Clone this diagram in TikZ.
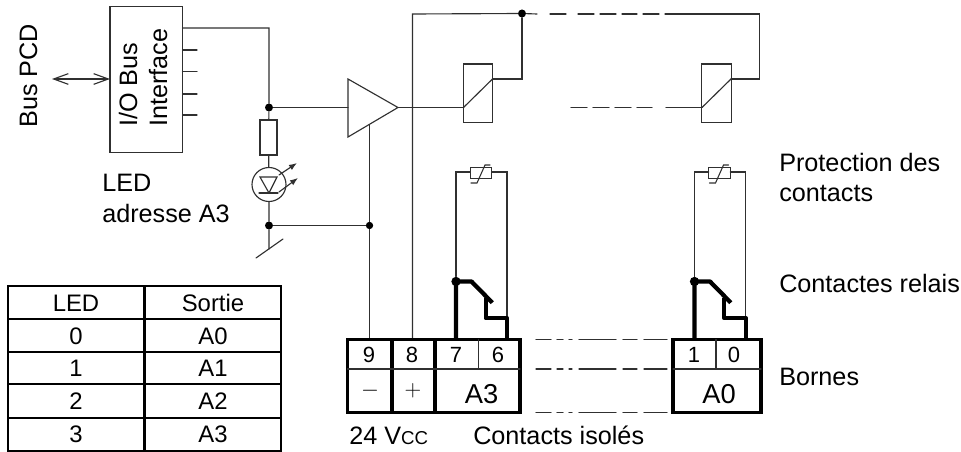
\documentclass[tikz,border=0pt]{standalone}
\usepackage{fontspec}
\setmainfont{Liberation Sans}
\usetikzlibrary{arrows.meta}
\definecolor{ink}{HTML}{303030}
\tikzset{
  wire/.style={draw=ink, line width=0.85pt, line cap=round, line join=miter},
  thk/.style={draw=black, line width=3.2pt, line join=round},
  frm/.style={draw=black, line width=2.7pt},
  tab/.style={draw=black, line width=1.6pt},
  box/.style={draw=ink, line width=0.85pt, inner sep=0pt, outer sep=0pt},
  dot/.style={circle, fill=black, inner sep=0pt, minimum size=6pt},
  lab/.style={text=black, inner sep=0pt, font=\fontsize{18.9pt}{22pt}\selectfont},
  labb/.style={text=black, inner sep=0pt, font=\fontsize{20.5pt}{24pt}\selectfont},
  labs/.style={text=black, inner sep=0pt, font=\fontsize{16.5pt}{19pt}\selectfont},
  labt/.style={text=black, inner sep=0pt, font=\fontsize{17.9pt}{21pt}\selectfont},
  sgn/.style={text=black, inner sep=0pt, font=\fontsize{17.28pt}{20pt}\selectfont},
  bar/.style={{Straight Barb[length=11pt,width=8pt]}-{Straight Barb[length=11pt,width=8pt]}},
  ray/.style={-{Latex[length=6pt,width=4.5pt]}},
}
\begin{document}
\begin{tikzpicture}[x=0.75pt,y=-0.75pt]
  \useasboundingbox (0,0) rectangle (961,452);
  % bus side
  \node[box,minimum width=54.4pt,minimum height=109pt] (io) at (146.25,79.5) {};
  \node[lab,rotate=90,anchor=base west] (bus) at (37,128) {Bus PCD};
  \node[lab,rotate=90,anchor=base west] (iob) at (137,127) {I/O Bus};
  \node[lab,rotate=90,anchor=base west] (ifc) at (167,127) {Interface};
  \coordinate (busl) at (52,79);
  \draw[wire,bar] (busl) -- (io.west |- busl);
  \foreach \y in {50,71.5,94,115} \draw[wire] (182.5,\y) -- (197,\y);
  % led branch
  \coordinate (out3) at (182.5,28);
  \node[dot] (j1) at (269,107.5) {};
  \node[box,minimum width=12.75pt,minimum height=26.25pt] (res) at (268.5,137.5) {};
  \node[box,circle,minimum size=25.5pt] (led) at (269,184.5) {};
  \node[dot] (j2) at (269,225.5) {};
  \coordinate (gnd) at (269,249);
  \draw[wire] (out3) -| (j1) -- (res) -- (led) -- (j2) -- (gnd);
  \draw[wire] (256,258) -- (283,239);
  \draw[wire] (260,177) -- (277,177) -- (269,193) -- cycle;
  \draw[wire] (259,193) -- (278,193);
  \draw[wire,ray] (279,175) -- (297,163);
  \draw[wire,ray] (279,192) -- (298,178);
  \node[lab,anchor=base west] (ledt) at (102,192) {LED};
  \node[lab,anchor=base west] (adr) at (102,223) {adresse A3};
  % amplifier and supply
  \coordinate (ampa) at (348,79);
  \coordinate (ampb) at (398,107.5);
  \coordinate (ampc) at (348,137);
  \coordinate (ampg) at (369.5,124.5);
  \draw[wire] (ampa) -- (ampb) -- (ampc) -- cycle;
  \draw[wire] (j1) -- (j1 -| ampa);
  \node[dot,minimum size=5.5pt] (j3) at (369.5,225.5) {};
  \coordinate (t9) at (369.5,339);
  \coordinate (t8) at (412.5,339);
  \draw[wire] (j2) -- (j3);
  \draw[wire] (ampg) -- (j3) -- (t9);
  \node[dot] (j4) at (522,13.5) {};
  \draw[wire] (t8) -- (412.5,14) -- (j4);
  \draw[wire] (j4) -- (537,14);
  \foreach \a/\b in {550/566,578/594,600/616,622/637,643/659} \draw[wire] (\a,14) -- (\b,14);
  \foreach \a/\b in {571/587,593/609,615/631,637/652} \draw[wire] (\a,107.5) -- (\b,107.5);
  % two relays with their contacts
  \foreach \s/\n in {0/a,238.5/b} {
    \begin{scope}[xshift=\s*0.75pt]
      \node[box,minimum width=21.9pt,minimum height=43.9pt] (rel\n) at (478,93.25) {};
      \coordinate (ci\n) at (463.5,107.5);
      \coordinate (co\n) at (492.5,79);
      \draw[wire] (ci\n) -- (co\n);
      \node[box,minimum width=16.2pt,minimum height=8.6pt] (var\n) at (481,173) {};
      \coordinate (vl\n) at (456,172);
      \coordinate (vr\n) at (507,172);
      \node[dot,minimum size=7pt] (c\n) at (456,281.5) {};
      \draw[wire] (c\n) -- (vl\n) -- (vl\n -| var\n.west);
      \draw[wire] (507,318) -- (vr\n) -- (vr\n -| var\n.east);
      \draw[wire,line width=0.8pt] (471,183) -- (477,183) -- (485,165) -- (490,165);
      \draw[thk] (456,338) -- (c\n.center) -- (471.5,281.5) -- (492.3,302.7);
      \draw[thk] (485.7,298) -- (485.7,318.3) -- (507.3,318.3) -- (507.3,338);
    \end{scope}
  }
  \draw[wire] (ampb) -- (cia);
  \draw[wire] (coa) -- (522,79) -- (j4);
  \draw[wire] (cob) -- (759.5,79) -- (759.5,14) -- (665,14);
  \draw[wire] (666,107.5) -- (cib);
  % terminal blocks
  \draw[frm] (347.5,339.5) rectangle (520,412.5);
  \draw[frm] (392,339.5) -- (392,412.5);
  \draw[frm] (435,339.5) -- (435,412.5);
  \draw[wire] (347.5,369) -- (520,369);
  \draw[wire] (478.5,339.5) -- (478.5,369);
  \draw[frm] (673,339.5) rectangle (761,412.5);
  \draw[wire] (673,369) -- (761,369);
  \draw[wire] (716,339.5) -- (716,369);
  \foreach \y in {339.5,369,412.5}
    \foreach \a/\b in {536/551,557/563,569/572,579/616,623/637,644/667}
      \draw[wire] (\a,\y) -- (\b,\y);
  \foreach \n/\x in {9/369,8/412,7/456,6/498,1/694,0/734}
    \node[labs] (num\n) at (\x,355) {\n};
  \node[sgn] (minus) at (370,391) {$-$};
  \node[sgn] (plus) at (413,391) {$+$};
  \node[labb] (a3) at (481.5,394.5) {A3};
  \node[labb] (a0) at (719,394.5) {A0};
  \node[lab,anchor=base west] (vcc) at (349,445) {24 V{\fontsize{14pt}{16pt}\selectfont CC}};
  \node[lab,anchor=base west] (iso) at (473,445) {Contacts isolés};
  % side labels
  \node[lab,anchor=base west] (prot) at (779,172) {Protection des};
  \node[lab,anchor=base west] (cont) at (779,202) {contacts};
  \node[lab,anchor=base west] (rela) at (779,293) {Contactes relais};
  \node[lab,anchor=base west] (born) at (779,386) {Bornes};
  % output table
  \draw[tab] (8,286) rectangle (281,451);
  \draw[tab] (144.5,286) -- (144.5,451);
  \foreach \y in {319.3,351.7,384.3,417.7} \draw[tab] (8,\y) -- (281,\y);
  \node[labt] (th1) at (76,303) {LED};
  \node[labt] (th2) at (213,303) {Sortie};
  \foreach \i/\y in {0/336,1/368,2/401,3/434} {
    \node[labt] (led\i) at (76,\y) {\i};
    \node[labt] (out\i) at (213,\y) {A\i};
  }
\end{tikzpicture}
\end{document}
